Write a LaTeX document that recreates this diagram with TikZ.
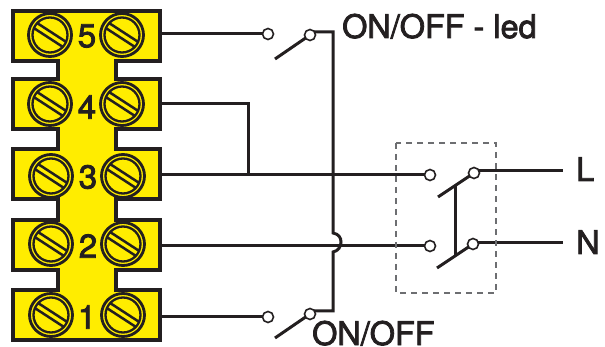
\documentclass[tikz,border=0pt]{standalone}
\usepackage{fontspec}
\setmainfont[FakeBold=2.5]{TeX Gyre Heros}
\definecolor{ink}{HTML}{231F20}
\definecolor{blockyellow}{HTML}{FFED00}
\definecolor{boxgrey}{HTML}{6D6E71}
\tikzset{
  wire/.style={draw=ink,line width=3pt},
  blockline/.style={draw=ink,fill=blockyellow,line width=3.2pt,line join=miter},
  contact/.style={circle,draw=ink,fill=white,line width=1.6pt,minimum size=11pt,inner sep=0pt},
  screw/.style={circle,draw=ink,fill=blockyellow,line width=2.8pt,minimum size=43pt,inner sep=0pt},
  screwring/.style={circle,draw=ink,line width=2.3pt,minimum size=35pt,inner sep=0pt},
  slot/.style={draw=ink,line width=2.5pt},
  digit/.style={font=\fontsize{33}{33}\selectfont,text=ink,inner sep=0pt},
  biglabel/.style={font=\fontsize{32.4}{32}\selectfont,text=ink,inner sep=0pt,anchor=base west},
  dashbox/.style={draw=boxgrey,line width=2.8pt,dash pattern=on 6pt off 5pt},
}
\begin{document}
\begin{tikzpicture}[x=1pt,y=-1pt]
\useasboundingbox (0,0) rectangle (605,347);
% terminal block outline
\path[blockline] (13,11) -- (160,11) -- (160,61) -- (116,61) -- (116,79) -- (160,79) -- (160,129)
  -- (116,129) -- (116,149) -- (160,149) -- (160,199) -- (116,199) -- (116,220) -- (160,220)
  -- (160,270) -- (116,270) -- (116,290) -- (160,290) -- (160,340) -- (13,340) -- (13,290)
  -- (58,290) -- (58,270) -- (13,270) -- (13,220) -- (58,220) -- (58,199) -- (13,199) -- (13,149)
  -- (58,149) -- (58,129) -- (13,129) -- (13,79) -- (58,79) -- (58,61) -- (13,61) -- cycle;
% screws
\foreach \n/\xa/\xb/\yy in {5/50/122/35,4/50/122/104,3/51/123/176,2/51/123/244,1/51/123/315}{
  \foreach \s/\xx in {a/\xa,b/\xb}{
    \node[screw] (screw\n\s) at (\xx,\yy) {};
    \node[screwring] (ring\n\s) at (\xx,\yy) {};
    \begin{scope}[shift={(\xx,\yy)},rotate=-33]
      \draw[slot] (-16.7,-3) -- (16.7,-3);
      \draw[slot] (-16.7,3) -- (16.7,3);
    \end{scope}
  }
}
\node[digit] (d5) at (87,36) {5};
\node[digit] (d4) at (87,107) {4};
\node[digit] (d3) at (88,177) {3};
\node[digit] (d2) at (88,246) {2};
\node[digit] (d1) at (87,317) {1};
% anchors
\coordinate (t5) at (160,34);
\coordinate (t4) at (160,104);
\coordinate (t3) at (160,175);
\coordinate (t2) at (160,246);
\coordinate (t1) at (160,317);
\coordinate (j34) at (248,175);
\coordinate (c4) at (248,104);
\coordinate (topcorner) at (333,32);
\coordinate (botcorner) at (333,311);
\coordinate (humpa) at (333,233);
\coordinate (humpb) at (333,252);
\coordinate (lend) at (563,171);
\coordinate (nend) at (563,243);
\coordinate (lev5) at (275,59);
\coordinate (lev1) at (275,338);
\coordinate (levL) at (438,197);
\coordinate (levN) at (437,268);
\coordinate (barT) at (455,186);
\coordinate (barB) at (455,256);
% wires
\draw[wire] (t5) -- (263,34);
\draw[wire] (t1) -- (263,317);
\draw[wire,line join=miter] (t4) -- (c4) -- (j34);
\draw[wire] (t3) -- (425,175);
\draw[wire] (t2) -- (425,246);
\draw[wire,line join=miter] (310,32) -- (topcorner) -- (humpa)
  .. controls (339,234) and (341,238) .. (341,242)
  .. controls (341,247) and (338,251) .. (humpb) -- (botcorner) -- (310,311);
\draw[wire] (474,171) -- (lend);
\draw[wire] (473,243) -- (nend);
\draw[wire] (lev5) -- (310,35);
\draw[wire] (lev1) -- (310,314);
\draw[wire] (levL) -- (474,173);
\draw[wire] (levN) -- (473,244);
\draw[wire] (barT) -- (barB);
% contacts
\node[contact] (s5a) at (268,34) {};
\node[contact] (s5b) at (310,35) {};
\node[contact] (s1a) at (268,317) {};
\node[contact] (s1b) at (310,314) {};
\node[contact] (in3) at (430,175) {};
\node[contact] (in2) at (430,246) {};
\node[contact] (outL) at (474,173) {};
\node[contact] (outN) at (473,244) {};
% dashed housing
\draw[dashbox] (396,143) rectangle (496,293);
% labels
\node[biglabel] (onled) at (342,38) {ON/OFF - led};
\node[biglabel] (onoff) at (312,345) {ON/OFF};
\node[biglabel] (lL) at (576,181) {L};
\node[biglabel] (lN) at (576,254) {N};
\end{tikzpicture}
\end{document}
